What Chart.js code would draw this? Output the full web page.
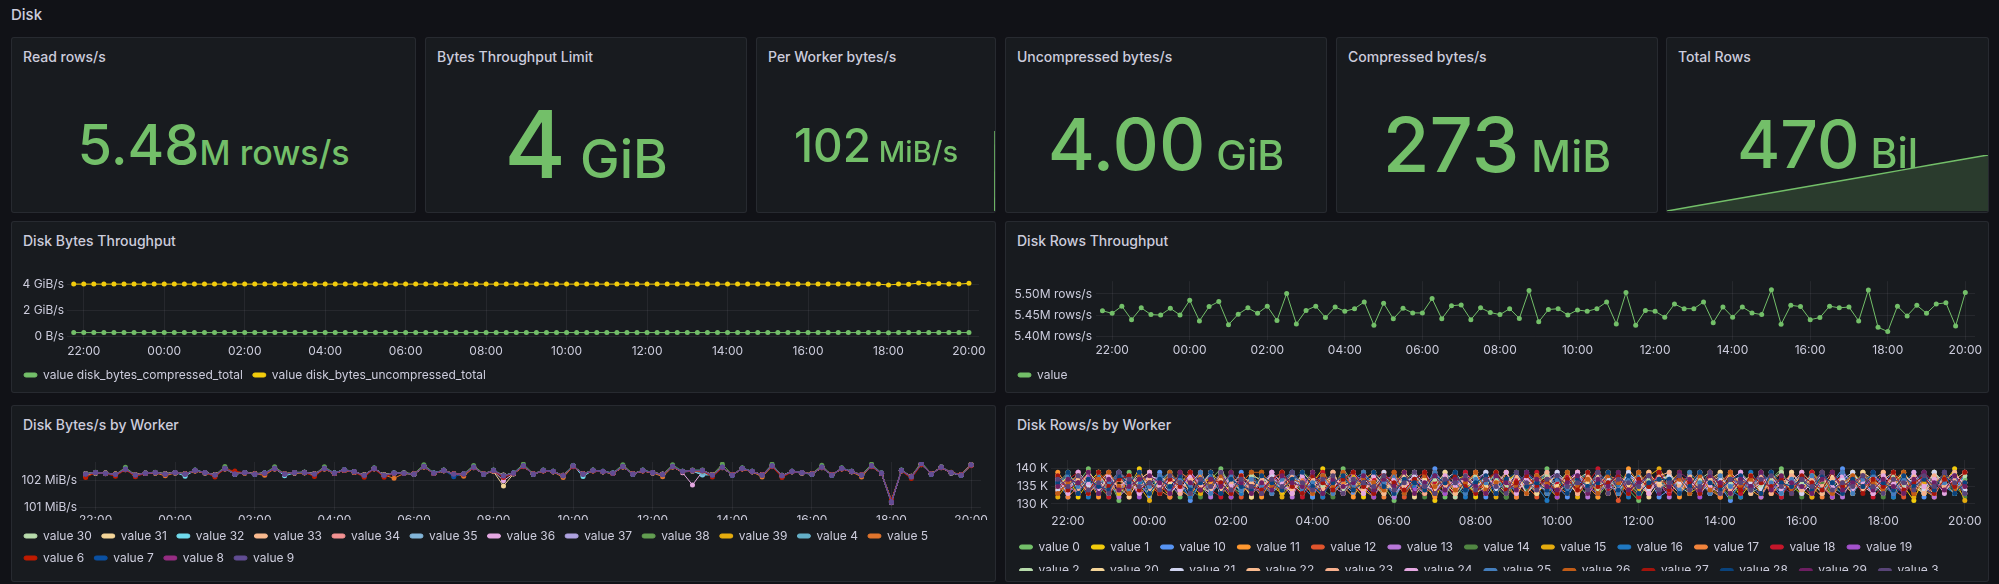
<!DOCTYPE html>
<html>
<head>
<meta charset="utf-8">
<script src="https://cdn.jsdelivr.net/npm/chart.js@4.4.1/dist/chart.umd.min.js"></script>
<style>
body{margin:0;background:#111217;width:1999px;height:584px;overflow:hidden;font-family:Inter,"Noto Sans",sans-serif;color:#ccccdc;position:relative}
.rowtitle{position:absolute;left:11px;top:6px;font-size:15px;font-weight:500;line-height:18px}
.panel{position:absolute;background:#181b1f;border:1px solid rgba(204,204,220,0.09);border-radius:3px;box-sizing:border-box;overflow:hidden}
.ptitle{position:absolute;left:11px;top:11px;font-size:14px;font-weight:500;line-height:16px;white-space:nowrap}
.stat{position:absolute;left:0;right:0;text-align:center;color:#73BF69;font-weight:500;line-height:1;white-space:nowrap}
.stat span{line-height:1}
.spark{position:absolute;left:0;right:0}
.box{position:absolute}
.clip{position:absolute;overflow:hidden}
</style>
</head>
<body>
<div class="rowtitle">Disk</div>

<div class="panel" style="left:11px;top:37px;width:405px;height:176px"><div class="ptitle">Read rows/s</div><div class="stat" style="top:78.5px;font-size:56px">5.48<span style="font-size:34px">M rows/s</span></div></div>
<div class="panel" style="left:425px;top:37px;width:322px;height:176px"><div class="ptitle">Bytes Throughput Limit</div><div class="stat" style="top:59px;font-size:94px">4<span style="font-size:53px"> GiB</span></div></div>
<div class="panel" style="left:756px;top:37px;width:240px;height:176px"><div class="ptitle">Per Worker bytes/s</div><div class="spark" style="top:93px;height:80px"><canvas id="sparkWorker"></canvas></div><div class="stat" style="top:84px;font-size:46px">102<span style="font-size:29px"> MiB/s</span></div></div>
<div class="panel" style="left:1005px;top:37px;width:322px;height:176px"><div class="ptitle">Uncompressed bytes/s</div><div class="stat" style="top:70px;font-size:72px">4.00<span style="font-size:41px"> GiB</span></div></div>
<div class="panel" style="left:1336px;top:37px;width:322px;height:176px"><div class="ptitle">Compressed bytes/s</div><div class="stat" style="top:68px;font-size:76px">273<span style="font-size:44px"> MiB</span></div></div>
<div class="panel" style="left:1666px;top:37px;width:323px;height:176px"><div class="ptitle">Total Rows</div><div class="spark" style="top:117px;height:56px"><canvas id="sparkRows"></canvas></div><div class="stat" style="top:73px;font-size:66px">470<span style="font-size:41px"> Bil</span></div></div>

<div class="panel" style="left:11px;top:221px;width:985px;height:172px"><div class="ptitle">Disk Bytes Throughput</div></div>
<div class="panel" style="left:1005px;top:221px;width:984px;height:172px"><div class="ptitle">Disk Rows Throughput</div></div>
<div class="panel" style="left:11px;top:405px;width:985px;height:177px"><div class="ptitle">Disk Bytes/s by Worker</div></div>
<div class="panel" style="left:1005px;top:405px;width:984px;height:177px"><div class="ptitle">Disk Rows/s by Worker</div></div>

<div class="box" style="left:14px;top:270px;width:982px;height:123px"><canvas id="bytesChart"></canvas></div>
<div class="box" style="left:1008px;top:270px;width:981px;height:123px"><canvas id="rowsChart"></canvas></div>
<div class="box" style="left:14px;top:440px;width:982px;height:142px"><canvas id="bytesWorkerChart"></canvas></div>
<div class="clip" style="left:1008px;top:440px;width:981px;height:131px"><div class="box" style="left:0;top:0;width:981px;height:150px"><canvas id="rowsWorkerChart"></canvas></div></div>

<script>
// time axis
const sampleStart = '21:45'
const sampleStep = 15
const timeRange = ['21:35', '20:15']
const timeTicks = ['22:00','00:00','02:00','04:00','06:00','08:00','10:00','12:00','14:00','16:00','18:00','20:00']

// stat sparklines
const perWorkerTimes = ['20:14', '20:15']
const perWorkerSpark = [0, 102.3]
const totalRowsTimes = ['21:45','00:00','02:00','04:00','06:00','08:00','10:00','12:00','14:00','16:00','18:00','20:00']
const totalRowsSpark = [0, 48, 90, 132, 174, 217, 259, 301, 343, 386, 428, 470]

// Disk Bytes Throughput (GiB/s)
const bytesTicks = [0, 2, 4]
const bytesTickText = ['0 B/s', '2 GiB/s', '4 GiB/s']
const bytesCompressed = [
0.27,0.27,0.27,0.27,0.27,0.27,0.27,0.27,0.27,0.27,
0.27,0.27,0.27,0.27,0.27,0.27,0.27,0.27,0.27,0.27,
0.27,0.27,0.27,0.27,0.27,0.27,0.27,0.27,0.27,0.27,
0.27,0.27,0.27,0.27,0.27,0.27,0.27,0.27,0.27,0.27,
0.27,0.27,0.27,0.27,0.27,0.27,0.27,0.27,0.27,0.27,
0.27,0.27,0.27,0.27,0.27,0.27,0.27,0.27,0.27,0.27,
0.27,0.27,0.27,0.27,0.27,0.27,0.27,0.27,0.27,0.27,
0.27,0.27,0.27,0.27,0.27,0.27,0.27,0.27,0.27,0.27,
0.27,0.26,0.27,0.27,0.27,0.27,0.27,0.27,0.27,0.27]
const bytesUncompressed = [
4.00,4.00,4.00,4.00,4.00,4.00,4.00,4.00,4.00,4.00,
4.00,4.00,4.00,4.00,4.00,4.00,4.00,4.00,4.00,4.00,
4.00,4.00,4.00,4.00,4.00,4.00,4.00,4.00,4.00,4.00,
4.00,4.00,4.00,4.00,4.00,4.00,4.00,4.00,4.00,4.00,
4.00,4.00,4.00,4.00,4.00,4.00,4.00,4.00,4.00,4.00,
4.00,4.00,4.00,4.00,4.00,4.00,4.00,4.00,4.00,4.00,
4.00,4.00,4.00,4.00,4.00,4.00,4.00,4.00,4.00,4.00,
4.00,4.00,4.00,4.00,4.00,4.00,4.00,4.00,4.00,4.00,
4.00,3.93,4.00,3.99,4.08,4.00,4.04,4.01,4.00,4.06]

// Disk Rows Throughput (M rows/s)
const rowsTicks = [5.40, 5.45, 5.50]
const rowsTickText = ['5.40M rows/s', '5.45M rows/s', '5.50M rows/s']
const rowsTotal = [
5.460,5.454,5.471,5.439,5.467,5.451,5.450,5.466,5.450,5.485,
5.436,5.470,5.482,5.427,5.452,5.467,5.454,5.471,5.437,5.501,
5.429,5.461,5.471,5.444,5.469,5.459,5.465,5.481,5.426,5.478,
5.441,5.466,5.455,5.455,5.489,5.441,5.472,5.474,5.439,5.467,
5.456,5.451,5.465,5.442,5.508,5.434,5.463,5.465,5.450,5.462,
5.459,5.465,5.481,5.429,5.503,5.426,5.461,5.459,5.445,5.476,
5.465,5.465,5.481,5.432,5.469,5.445,5.469,5.455,5.451,5.510,
5.428,5.473,5.470,5.439,5.444,5.471,5.467,5.469,5.436,5.509,
5.421,5.411,5.471,5.448,5.473,5.454,5.476,5.479,5.424,5.503]

// Disk Bytes/s by Worker (MiB/s)
const bytesWorkerTicks = [101, 102]
const bytesWorkerTickText = ['101 MiB/s', '102 MiB/s']
const bytesV30 = [
102.27,102.29,102.26,102.25,102.41,102.23,102.27,102.31,102.24,102.29,
102.26,102.36,102.31,102.22,102.44,102.26,102.29,102.27,102.27,102.44,
102.26,102.29,102.30,102.26,102.44,102.27,102.39,102.32,102.22,102.45,
102.22,102.27,102.29,102.26,102.51,102.27,102.37,102.26,102.24,102.48,
102.26,102.37,102.20,102.27,102.53,102.26,102.37,102.33,102.20,102.53,
102.26,102.37,102.33,102.27,102.51,102.26,102.37,102.31,102.24,102.51,
102.33,102.37,102.37,102.23,102.48,102.22,102.45,102.33,102.22,102.53,
102.20,102.33,102.29,102.26,102.48,102.22,102.45,102.33,102.22,102.53,
102.27,101.25,102.36,102.17,102.60,102.26,102.48,102.29,102.22,102.57]
const bytesV31 = [
102.24,102.31,102.27,102.25,102.42,102.22,102.29,102.30,102.26,102.31,
102.24,102.37,102.31,102.22,102.45,102.24,102.31,102.26,102.29,102.45,
102.26,102.31,102.30,102.24,102.45,102.29,102.39,102.34,102.21,102.45,
102.21,102.29,102.27,102.26,102.52,102.29,102.37,102.24,102.26,102.49,
102.26,102.34,101.80,102.25,102.54,102.24,102.37,102.35,102.19,102.54,
102.24,102.39,102.33,102.29,102.52,102.26,102.37,102.31,102.24,102.52,
102.35,102.37,102.39,102.22,102.49,102.22,102.45,102.35,102.22,102.54,
102.19,102.35,102.31,102.24,102.49,102.22,102.45,102.35,102.22,102.54,
102.29,101.24,102.37,102.16,102.62,102.26,102.49,102.31,102.22,102.58]
const bytesV32 = [
102.23,102.28,102.29,102.22,102.44,102.20,102.27,102.31,102.23,102.31,
102.17,102.39,102.29,102.20,102.47,102.24,102.31,102.24,102.29,102.47,
102.18,102.29,102.32,102.21,102.47,102.29,102.41,102.34,102.19,102.47,
102.21,102.29,102.29,102.24,102.54,102.29,102.39,102.24,102.26,102.51,
102.24,102.39,102.19,102.29,102.56,102.24,102.39,102.35,102.19,102.56,
102.16,102.39,102.35,102.29,102.54,102.24,102.39,102.31,102.22,102.54,
102.35,102.36,102.21,102.22,102.51,102.20,102.47,102.35,102.20,102.56,
102.19,102.35,102.31,102.24,102.51,102.20,102.47,102.35,102.20,102.56,
102.29,101.19,102.39,102.14,102.64,102.24,102.51,102.31,102.20,102.60]
const bytesV33 = [
102.26,102.29,102.29,102.23,102.42,102.22,102.29,102.29,102.26,102.29,
102.26,102.37,102.29,102.22,102.45,102.26,102.29,102.26,102.27,102.45,
102.26,102.29,102.32,102.26,102.45,102.27,102.39,102.32,102.21,102.45,
102.21,102.27,102.29,102.24,102.52,102.27,102.39,102.26,102.24,102.49,
102.26,102.37,102.21,102.27,102.54,102.26,102.37,102.33,102.19,102.54,
102.26,102.37,102.33,102.27,102.52,102.26,102.37,102.29,102.24,102.52,
102.33,102.39,102.37,102.22,102.49,102.22,102.45,102.33,102.22,102.54,
102.19,102.33,102.29,102.26,102.49,102.22,102.45,102.33,102.22,102.54,
102.27,101.22,102.37,102.16,102.62,102.26,102.49,102.29,102.22,102.60]
const bytesV34 = [
102.22,102.31,102.27,102.25,102.44,102.22,102.27,102.31,102.24,102.31,
102.24,102.39,102.31,102.22,102.47,102.24,102.31,102.24,102.29,102.47,
102.24,102.31,102.30,102.24,102.47,102.29,102.41,102.32,102.21,102.47,
102.21,102.29,102.27,102.26,102.54,102.27,102.39,102.24,102.26,102.51,
102.24,102.39,102.17,102.29,102.56,102.24,102.39,102.33,102.17,102.56,
102.24,102.39,102.33,102.29,102.54,102.24,102.39,102.29,102.22,102.54,
102.33,102.39,102.37,102.22,102.51,102.22,102.47,102.33,102.22,102.56,
102.17,102.33,102.29,102.26,102.51,102.22,102.47,102.33,102.22,102.56,
102.27,101.17,102.39,102.16,102.64,102.26,102.51,102.29,102.22,102.61]
const bytesV35 = [
102.27,102.28,102.30,102.23,102.43,102.20,102.29,102.29,102.27,102.29,
102.27,102.37,102.29,102.23,102.45,102.27,102.29,102.27,102.27,102.45,
102.27,102.29,102.32,102.27,102.45,102.27,102.39,102.32,102.22,102.45,
102.22,102.27,102.30,102.23,102.52,102.27,102.37,102.27,102.23,102.49,
102.27,102.37,102.20,102.27,102.54,102.27,102.37,102.33,102.20,102.54,
102.27,102.37,102.33,102.27,102.52,102.27,102.37,102.29,102.25,102.52,
102.33,102.35,102.24,102.23,102.49,102.23,102.45,102.33,102.23,102.54,
102.20,102.33,102.29,102.27,102.49,102.23,102.45,102.33,102.23,102.54,
102.27,101.26,102.37,102.17,102.61,102.27,102.49,102.29,102.23,102.58]
const bytesV36 = [
102.24,102.31,102.28,102.23,102.44,102.21,102.29,102.31,102.25,102.31,
102.24,102.38,102.31,102.21,102.46,102.25,102.31,102.25,102.29,102.46,
102.24,102.31,102.31,102.25,102.46,102.29,102.40,102.34,102.20,102.46,
102.20,102.29,102.28,102.25,102.53,102.29,102.38,102.25,102.25,102.50,
102.25,102.36,102.00,102.26,102.55,102.25,102.38,102.34,102.18,102.55,
102.25,102.38,102.34,102.28,102.53,102.25,102.38,102.31,102.23,102.53,
102.30,101.84,102.34,102.21,102.50,102.21,102.46,102.34,102.21,102.55,
102.18,102.34,102.31,102.25,102.50,102.21,102.46,102.34,102.21,102.55,
102.28,101.20,102.38,102.15,102.63,102.25,102.50,102.31,102.21,102.59]
const bytesV37 = [
102.26,102.30,102.27,102.24,102.42,102.22,102.28,102.29,102.25,102.30,
102.26,102.37,102.30,102.21,102.45,102.26,102.30,102.25,102.28,102.45,
102.25,102.30,102.31,102.26,102.45,102.28,102.39,102.33,102.21,102.45,
102.21,102.28,102.28,102.25,102.52,102.28,102.38,102.26,102.25,102.49,
102.25,102.37,102.19,102.28,102.54,102.25,102.37,102.34,102.19,102.54,
102.25,102.37,102.34,102.28,102.52,102.25,102.37,102.30,102.23,102.52,
102.34,102.37,102.37,102.22,102.49,102.22,102.45,102.34,102.22,102.54,
102.19,102.34,102.30,102.25,102.49,102.22,102.45,102.34,102.22,102.54,
102.28,101.23,102.37,102.16,102.62,102.25,102.49,102.30,102.22,102.58]
const bytesV38 = [
102.26,102.32,102.29,102.23,102.50,102.21,102.29,102.32,102.25,102.31,
102.26,102.40,102.31,102.21,102.53,102.26,102.31,102.25,102.29,102.52,
102.26,102.31,102.32,102.25,102.52,102.29,102.42,102.34,102.20,102.48,
102.20,102.29,102.29,102.26,102.60,102.29,102.40,102.26,102.26,102.57,
102.26,102.40,102.19,102.29,102.62,102.26,102.40,102.35,102.19,102.57,
102.26,102.40,102.35,102.29,102.60,102.26,102.40,102.31,102.23,102.60,
102.35,102.40,102.40,102.22,102.62,102.22,102.48,102.35,102.20,102.62,
102.17,102.35,102.31,102.26,102.58,102.20,102.48,102.35,102.22,102.62,
102.29,101.24,102.40,102.16,102.70,102.26,102.52,102.31,102.22,102.61]
const bytesV39 = [
102.25,102.29,102.28,102.25,102.42,102.22,102.28,102.29,102.26,102.30,
102.25,102.37,102.30,102.22,102.46,102.25,102.29,102.26,102.28,102.46,
102.25,102.30,102.30,102.25,102.45,102.28,102.39,102.33,102.21,102.46,
102.21,102.28,102.28,102.25,102.52,102.28,102.38,102.25,102.25,102.50,
102.25,102.37,102.18,102.28,102.54,102.25,102.38,102.33,102.19,102.54,
102.25,102.37,102.34,102.28,102.52,102.25,102.38,102.30,102.23,102.52,
102.34,102.38,102.37,102.22,102.50,102.21,102.45,102.34,102.21,102.54,
102.19,102.34,102.30,102.25,102.50,102.21,102.45,102.34,102.21,102.54,
102.28,101.22,102.38,102.16,102.62,102.25,102.50,102.30,102.21,102.58]
const bytesV4 = [
102.20,102.31,102.27,102.22,102.44,102.19,102.28,102.31,102.24,102.31,
102.24,102.39,102.31,102.20,102.47,102.24,102.31,102.24,102.29,102.47,
102.24,102.31,102.30,102.24,102.47,102.29,102.41,102.32,102.19,102.47,
102.19,102.29,102.27,102.24,102.54,102.29,102.39,102.24,102.24,102.51,
102.24,102.39,102.17,102.29,102.56,102.24,102.39,102.33,102.17,102.56,
102.24,102.39,102.33,102.29,102.54,102.24,102.39,102.29,102.22,102.54,
102.33,102.36,102.30,102.20,102.51,102.20,102.47,102.33,102.20,102.56,
102.17,102.33,102.29,102.24,102.51,102.20,102.47,102.33,102.20,102.56,
102.27,101.18,102.39,102.14,102.64,102.24,102.51,102.29,102.20,102.60]
const bytesV5 = [
102.18,102.29,102.29,102.24,102.42,102.22,102.29,102.29,102.18,102.29,
102.26,102.37,102.29,102.22,102.45,102.26,102.29,102.26,102.20,102.45,
102.26,102.29,102.30,102.26,102.45,102.27,102.39,102.32,102.21,102.45,
102.21,102.09,102.27,102.24,102.52,102.27,102.37,102.26,102.17,102.49,
102.26,102.37,102.19,102.27,102.54,102.26,102.37,102.33,102.12,102.54,
102.26,102.37,102.33,102.27,102.52,102.26,102.37,102.29,102.15,102.52,
102.33,102.37,102.37,102.22,102.49,102.22,102.45,102.33,102.14,102.54,
102.19,102.33,102.29,102.26,102.49,102.22,102.45,102.33,102.14,102.56,
102.27,101.25,102.37,102.17,102.64,102.26,102.51,102.32,102.22,102.61]
const bytesV6 = [
102.12,102.30,102.26,102.17,102.41,102.15,102.27,102.30,102.24,102.30,
102.26,102.36,102.30,102.14,102.44,102.36,102.29,102.26,102.27,102.44,
102.26,102.30,102.30,102.16,102.44,102.27,102.38,102.32,102.13,102.44,
102.13,102.27,102.27,102.26,102.51,102.27,102.37,102.26,102.24,102.48,
102.26,102.36,102.12,102.27,102.52,102.26,102.36,102.33,102.20,102.52,
102.26,102.36,102.33,102.27,102.51,102.26,102.36,102.30,102.24,102.51,
102.33,102.36,102.36,102.14,102.48,102.23,102.44,102.33,102.23,102.52,
102.12,102.33,102.30,102.26,102.48,102.23,102.44,102.33,102.23,102.52,
102.27,101.28,102.36,102.08,102.60,102.26,102.48,102.30,102.23,102.56]
const bytesV7 = [
102.24,102.31,102.27,102.23,102.44,102.21,102.29,102.31,102.24,102.31,
102.24,102.39,102.31,102.21,102.47,102.24,102.31,102.24,102.29,102.47,
102.24,102.31,102.31,102.24,102.47,102.29,102.41,102.34,102.20,102.47,
102.20,102.29,102.28,102.24,102.54,102.29,102.39,102.15,102.26,102.51,
102.24,102.39,102.18,102.29,102.56,102.24,102.39,102.35,102.18,102.56,
102.24,102.39,102.35,102.29,102.54,102.24,102.39,102.31,102.22,102.54,
102.35,102.39,102.39,102.20,102.51,102.20,102.47,102.35,102.20,102.56,
102.18,102.35,102.31,102.24,102.51,102.20,102.47,102.35,102.20,102.56,
102.29,101.20,102.39,102.14,102.64,102.24,102.51,102.31,102.20,102.60]
const bytesV8 = [
102.25,102.30,102.28,102.24,102.43,102.21,102.28,102.30,102.25,102.30,
102.25,102.38,102.30,102.21,102.46,102.25,102.30,102.25,102.28,102.46,
102.25,102.30,102.31,102.25,102.46,102.28,102.40,102.33,102.20,102.46,
102.20,102.28,102.28,102.25,102.53,102.28,102.38,102.25,102.25,102.50,
102.25,102.38,102.17,102.28,102.55,102.25,102.38,102.34,102.18,102.55,
102.25,102.38,102.34,102.28,102.53,102.25,102.38,102.30,102.23,102.53,
102.34,102.38,102.38,102.21,102.50,102.21,102.46,102.34,102.21,102.55,
102.18,102.34,102.30,102.25,102.50,102.21,102.46,102.34,102.21,102.55,
102.28,101.19,102.38,102.15,102.63,102.25,102.50,102.30,102.21,102.59]
const bytesV9 = [
102.25,102.30,102.28,102.24,102.43,102.21,102.28,102.30,102.25,102.30,
102.25,102.38,102.30,102.21,102.46,102.25,102.30,102.25,102.28,102.46,
102.25,102.30,102.31,102.25,102.46,102.28,102.40,102.33,102.20,102.46,
102.20,102.28,102.28,102.25,102.53,102.28,102.38,102.25,102.25,102.50,
102.25,102.38,102.18,102.28,102.55,102.25,102.38,102.34,102.18,102.55,
102.25,102.38,102.34,102.28,102.53,102.25,102.38,102.30,102.23,102.53,
102.34,102.38,102.38,102.21,102.50,102.21,102.46,102.34,102.21,102.55,
102.18,102.34,102.30,102.25,102.50,102.21,102.46,102.34,102.21,102.55,
102.28,101.21,102.38,102.15,102.63,102.25,102.50,102.30,102.21,102.59]
const bytesWorkerNames = ['value 30','value 31','value 32','value 33','value 34','value 35','value 36','value 37','value 38','value 39','value 4','value 5','value 6','value 7','value 8','value 9']
const bytesWorkerColors = ['#B7DBAB','#F4D598','#70DBED','#F9BA8F','#F29191','#82B5D8','#E5A8E2','#AEA2E0','#629E51','#E5AC0E','#64B0C8','#E0752D','#BF1B00','#0A50A1','#962D82','#614D93']
const bytesWorkerValues = [bytesV30, bytesV31, bytesV32, bytesV33, bytesV34, bytesV35, bytesV36, bytesV37, bytesV38, bytesV39, bytesV4, bytesV5, bytesV6, bytesV7, bytesV8, bytesV9]

// Disk Rows/s by Worker (K rows/s)
const rowsWorkerTicks = [130, 135, 140]
const rowsWorkerTickText = ['130 K', '135 K', '140 K']
const rowsV0 = [
138,133,136,140,134,137,131,139,135,133,138,136,132,139,134,137,140,135,133,137,
135,139,133,136,138,132,137,134,140,136,133,138,135,131,137,139,134,136,132,138,
136,133,139,135,132,138,136,134,140,133,137,135,139,132,136,138,134,131,137,135,
139,134,136,133,138,135,132,139,136,134,137,140,133,136,134,138,132,137,135,139,
134,137,132,138,135,133,139,136,134,137]
const rowsV1 = [
134,138,132,136,139,133,137,135,140,134,136,132,138,135,133,139,136,134,137,132,
139,135,133,138,134,136,140,133,137,135,132,138,134,136,139,133,137,131,138,135,
137,132,138,134,136,139,133,137,135,132,138,136,134,139,133,137,135,132,139,134,
136,138,133,135,139,134,137,132,136,138,134,137,135,133,139,136,132,138,134,136,
138,133,137,135,131,138,134,136,140,133]
const rowsV10 = [
136,132,139,134,137,135,133,138,136,132,139,134,137,131,136,138,133,135,139,134,
137,133,136,139,135,132,138,134,136,133,139,135,137,132,136,138,134,140,133,137,
135,139,132,136,134,138,133,136,139,135,132,137,134,138,136,133,139,135,137,132,
134,138,136,133,139,135,131,137,134,138,136,132,139,135,137,133,136,140,134,137,
133,136,139,134,137,132,138,135,133,139]
const rowsV11 = [
139,135,133,137,132,138,135,136,133,139,135,137,134,132,138,136,134,139,133,136,
132,137,135,139,134,136,133,138,135,132,137,139,134,136,133,138,135,132,139,136,
134,137,133,138,135,132,139,134,136,138,133,137,135,132,138,134,140,136,133,137,
135,132,138,134,136,139,133,136,134,132,138,135,137,133,139,135,132,137,134,138,
136,133,139,135,137,134,132,138,136,134]
const rowsV12 = [
133,137,135,138,134,136,139,132,137,135,133,138,136,134,139,133,137,135,132,138,
134,136,138,133,137,135,132,139,134,136,138,133,135,139,132,137,136,134,138,133,
137,134,136,139,133,137,135,132,138,134,136,139,133,136,138,131,137,135,133,139,
136,133,137,135,139,132,136,138,134,137,133,135,139,136,132,138,134,136,133,137,
135,139,134,132,138,136,133,137,135,139]
const rowsV13 = [
137,134,139,133,136,138,132,135,139,136,134,137,133,139,135,132,138,136,134,137,
133,139,136,132,138,134,137,135,133,139,136,134,138,132,137,135,133,139,136,134,
139,135,133,137,134,138,136,133,137,139,134,136,132,138,135,137,133,139,134,136,
132,138,135,137,133,136,139,134,136,132,137,135,138,133,136,139,134,132,137,135,
139,134,136,133,138,135,132,139,136,134]
const rowsV14 = [
135,139,133,137,135,132,138,136,134,139,133,136,138,134,132,137,135,139,136,133,
138,134,136,133,139,137,134,132,138,135,136,133,139,134,137,135,132,138,136,134,
133,137,135,139,132,136,134,138,133,136,139,135,133,137,134,139,136,132,138,135,
137,133,139,134,136,138,132,135,137,133,139,134,136,132,138,136,134,139,133,137,
135,132,138,136,134,139,133,137,135,132]
const rowsV15 = [
132,136,138,134,139,136,133,137,135,131,138,134,136,139,133,137,135,132,138,136,
135,138,132,136,134,139,133,137,136,138,134,132,137,135,139,133,136,138,134,137,
138,134,136,132,139,135,137,133,136,134,138,132,137,135,139,133,136,134,138,140,
136,139,133,137,135,132,138,136,134,139,133,136,138,134,132,137,135,133,139,136,
133,137,135,139,132,136,138,134,137,131]
const rowsV16 = [
136,134,137,132,138,135,139,134,136,133,137,139,135,132,136,138,134,137,133,139,
134,137,135,139,133,136,132,138,135,137,139,134,136,133,138,135,137,133,139,136,
132,138,136,134,137,133,139,135,131,137,134,136,139,133,137,135,132,138,136,134,
139,135,133,137,136,138,134,132,139,135,137,133,136,138,134,139,135,133,137,136,
134,138,132,136,139,134,137,135,133,138]
const rowsV17 = [
138,132,135,139,136,134,137,133,138,136,134,132,139,137,135,133,138,134,136,139,
136,133,139,134,137,135,138,133,136,134,139,136,132,138,135,137,134,139,133,136,
135,139,133,137,136,132,138,134,137,135,133,139,136,134,138,137,133,136,139,134,
137,133,136,139,134,132,137,135,138,133,136,139,134,137,135,132,138,136,134,139,
136,134,138,133,137,135,139,134,136,133]
const rowsV18 = [
134,137,139,133,136,132,138,135,137,139,135,133,137,136,139,134,132,138,135,137,
133,138,135,137,132,136,139,134,138,135,133,137,139,135,134,138,133,136,137,132,
139,136,134,138,135,137,133,139,134,136,138,133,136,140,134,137,135,132,138,136,
133,136,138,134,137,135,139,133,136,138,134,132,137,135,139,133,136,138,134,137,
132,135,138,136,133,139,136,134,137,135]
const rowsV19 = [
137,135,133,138,136,139,134,137,132,136,138,135,133,139,136,134,137,132,138,135,
136,139,134,135,138,133,136,137,134,139,135,132,137,138,136,134,139,135,133,137,
134,136,139,133,137,135,138,134,136,132,137,139,135,133,136,138,134,137,133,139,
136,134,137,132,138,136,133,139,135,137,134,136,138,133,137,135,132,139,136,134,
138,136,133,137,135,138,134,136,139,133]
const rowsV2 = [
135,138,136,133,139,134,137,135,138,133,136,139,134,137,135,133,139,136,134,138,
137,134,138,136,133,137,135,139,134,136,138,135,133,137,136,139,134,137,135,132,
136,138,134,137,135,139,133,136,138,134,135,137,139,134,136,133,138,135,137,136,
138,135,133,137,139,134,136,138,133,135,137,139,134,136,138,133,137,135,139,134,
136,133,138,135,137,134,139,136,133,138]
const rowsV20 = [
136,139,134,137,133,138,135,132,137,139,134,136,138,133,137,135,139,134,136,132,
138,135,137,133,139,136,134,138,135,137,133,139,136,134,138,132,137,135,139,133,
137,133,135,139,136,134,138,133,137,135,139,134,136,138,133,137,135,139,132,136,
134,138,136,135,137,139,133,136,138,134,136,133,139,135,137,134,138,136,133,139,
137,134,136,139,135,133,137,138,134,136]
const rowsV21 = [
134,136,138,135,137,133,139,136,134,138,137,133,136,138,135,139,134,137,136,133,
136,138,134,137,135,139,133,136,138,134,137,135,139,133,136,138,135,134,137,139,
135,137,139,134,136,138,133,137,135,139,136,133,138,135,137,134,139,136,134,137,
138,136,134,139,133,137,135,138,136,134,139,135,137,133,136,138,134,137,139,135,
133,137,135,138,136,134,139,135,137,134]
const rowsV22 = [
138,135,137,133,136,139,134,138,135,137,133,138,135,136,139,134,137,133,138,136,
135,137,139,134,136,133,138,135,137,139,134,136,133,138,135,137,139,134,136,133,
138,135,137,136,139,134,136,138,133,137,135,139,134,137,135,138,136,133,139,135,
136,133,138,135,137,134,139,136,133,138,135,137,134,139,136,133,137,135,138,134,
137,139,134,136,138,135,133,137,139,135]
const rowsV23 = [
135,137,134,139,136,133,137,135,139,134,136,138,133,137,135,139,134,136,138,133,
137,134,136,138,135,137,134,139,133,136,138,135,137,134,139,136,133,138,135,137,
136,139,134,136,133,138,135,137,139,134,136,133,138,135,139,134,137,135,133,138,
139,135,137,133,136,138,134,137,135,139,133,136,138,134,137,135,139,133,136,138,
135,137,139,134,136,133,138,135,137,139]
const rowsV24 = [
137,133,139,136,134,138,135,137,133,139,135,137,134,138,136,133,139,135,137,134,
134,139,136,133,138,135,137,134,139,136,133,138,135,137,134,139,136,133,138,135,
137,134,138,135,139,133,137,135,134,138,136,139,133,137,135,134,138,136,133,137,
135,137,134,138,135,133,137,139,134,136,138,134,136,139,133,137,135,138,134,136,
133,138,136,134,139,135,137,133,138,136]
const rowsV25 = [
136,138,135,137,133,136,139,134,137,135,138,134,137,135,139,133,136,138,134,137,
135,133,137,139,134,136,138,133,137,135,139,134,136,138,133,137,135,139,134,136,
133,137,136,138,134,135,139,136,133,137,134,138,135,139,136,133,137,135,138,134,
137,134,139,136,133,138,135,137,134,139,136,133,137,135,138,134,136,139,133,137,
138,135,133,137,136,139,134,136,138,133]
const rowsV26 = [
133,136,138,134,137,139,135,133,138,136,134,139,136,133,137,135,138,134,136,139,
139,135,134,137,136,133,138,135,139,134,137,136,134,139,133,136,138,135,137,134,
136,139,134,136,137,135,133,138,136,134,139,135,137,133,138,136,134,139,135,137,
135,137,133,138,134,136,139,135,137,133,138,136,134,137,135,139,133,136,138,135,
136,134,137,139,133,137,135,138,134,136]
const rowsV27 = [
138,134,136,133,139,135,137,138,134,136,133,137,135,139,134,137,136,133,138,135,
134,137,139,135,133,138,136,134,137,139,135,133,138,136,134,137,139,133,136,138,
135,133,137,139,134,136,138,135,137,133,137,134,139,135,136,138,133,137,135,139,
134,138,136,133,139,135,137,134,138,136,135,137,133,138,136,134,139,135,137,133,
137,135,139,134,136,138,133,137,135,139]
const rowsV28 = [
136,139,133,137,135,134,138,136,139,133,137,135,138,134,136,139,133,137,135,134,
138,136,134,137,139,135,133,136,138,134,136,139,135,133,137,136,134,138,136,139,
134,136,138,133,137,139,135,136,134,138,133,137,135,136,139,134,138,133,136,137,
137,133,135,139,136,134,137,138,135,133,139,136,135,137,134,138,136,133,137,135,
139,136,134,138,135,137,134,139,133,136]
const rowsV29 = [
135,137,136,139,133,137,134,135,137,138,136,133,139,136,134,137,135,139,136,133,
136,134,138,136,135,139,133,137,135,136,138,134,137,135,139,133,136,138,134,137,
137,135,133,138,136,134,139,137,135,134,136,138,133,137,135,139,134,136,138,133,
135,139,137,134,138,136,133,137,135,139,134,138,136,135,133,137,139,134,136,138,
134,137,135,133,137,139,136,134,138,135]
const rowsV3 = [
137,135,138,134,136,133,139,137,135,136,134,138,136,133,137,135,139,134,137,135,
133,137,135,139,136,134,137,138,133,137,136,135,138,134,136,139,135,133,137,136,
138,134,137,135,133,139,136,134,137,138,135,136,134,139,133,137,136,135,138,134,
136,138,134,135,139,133,137,136,134,137,138,135,133,137,135,139,134,136,135,138,
135,133,137,136,134,138,135,139,136,133]
const rowsWorkerNames = ['value 0','value 1','value 10','value 11','value 12','value 13','value 14','value 15','value 16','value 17','value 18','value 19','value 2','value 20','value 21','value 22','value 23','value 24','value 25','value 26','value 27','value 28','value 29','value 3']
const rowsWorkerColors = ['#73BF69','#F2CC0C','#5794F2','#FF9830','#E0552D','#B877D9','#508642','#E5AC0E','#1F78C1','#F2843C','#C4162A','#A352CC','#B7DBAB','#F4D598','#D0D4F0','#F9BA8F','#F8B08E','#E5A8E2','#447EBC','#C15C17','#A3140C','#0A437C','#6D1F62','#584477']
const rowsWorkerValues = [rowsV0, rowsV1, rowsV10, rowsV11, rowsV12, rowsV13, rowsV14, rowsV15, rowsV16, rowsV17, rowsV18, rowsV19, rowsV2, rowsV20, rowsV21, rowsV22, rowsV23, rowsV24, rowsV25, rowsV26, rowsV27, rowsV28, rowsV29, rowsV3]

const gridColor = 'rgba(204,204,220,0.08)'
const textColor = '#ccccdc'

Chart.defaults.font.family = 'Inter, "Noto Sans", sans-serif'
Chart.defaults.font.size = 12
Chart.defaults.color = textColor
Chart.defaults.animation = false

// minutes since 21:30 of the first day
function toX(t){
const [h, m] = t.split(':').map(Number)
return ((h * 60 + m) - (21 * 60 + 30) + 1440) % 1440
}

function pts(vals){
return vals.map((v, i) => ({x: toX(sampleStart) + i * sampleStep, y: v}))
}

function lineSet(label, color, vals, i){
return {
label: label,
data: pts(vals),
borderColor: color,
backgroundColor: color,
pointBackgroundColor: color,
borderWidth: 1,
pointRadius: 2.5,
pointBorderWidth: 0,
order: -i
}
}

function timeChart(id, g, sets, yVals, yText, yMin, yMax){

new Chart(document.getElementById(id), {
type: 'line',
data: {datasets: sets},
options: {
responsive: true,
maintainAspectRatio: false,
animation: false,
events: [],
layout: {padding: {left: 0, right: g.padR, top: g.padT, bottom: g.padB}},
plugins: {
legend: {
position: 'bottom',
align: 'start',
labels: {
boxWidth: 13, boxHeight: 4, useBorderRadius: true, borderRadius: 2,
padding: g.legPad, color: textColor, font: {size: 12},
sort: (a, b) => a.datasetIndex - b.datasetIndex
}
},
tooltip: {enabled: false}
},
scales: {
x: {
type: 'linear',
min: toX(timeRange[0]),
max: toX(timeRange[1]),
afterBuildTicks: s => { s.ticks = timeTicks.map(t => ({value: toX(t)})) },
afterFit: s => { s.height = g.xH },
ticks: {padding: g.xPad, autoSkip: false, maxRotation: 0, color: textColor, callback: (v, i) => timeTicks[i]},
grid: {color: gridColor, drawTicks: false},
border: {display: false}
},
y: {
min: yMin,
max: yMax,
afterBuildTicks: s => { s.ticks = yVals.map(v => ({value: v})) },
afterFit: s => { s.width = g.yW },
ticks: {padding: g.yPad, color: textColor, callback: (v, i) => yText[i]},
grid: {color: gridColor, drawTicks: false},
border: {display: false}
}
}
}
})

}

function sparkChart(id, times, vals, xMin, xMax, fill){

new Chart(document.getElementById(id), {
type: 'line',
data: {datasets: [{
data: times.map((t, i) => ({x: toX(t), y: vals[i]})),
borderColor: '#73BF69',
backgroundColor: 'rgba(115,191,105,0.2)',
borderWidth: 1.5,
pointRadius: 0,
fill: fill ? 'start' : false,
clip: false
}]},
options: {
responsive: true,
maintainAspectRatio: false,
animation: false,
events: [],
layout: {padding: 0},
plugins: {legend: {display: false}, tooltip: {enabled: false}},
scales: {
x: {type: 'linear', display: false, min: xMin, max: xMax},
y: {display: false, min: Math.min(...vals), max: Math.max(...vals)}
}
}
})

}

sparkChart('sparkWorker', perWorkerTimes, perWorkerSpark, toX(sampleStart), toX('20:15'), true)
sparkChart('sparkRows', totalRowsTimes, totalRowsSpark, toX(sampleStart), toX('20:00'), true)

timeChart('bytesChart',
{padT: 8, padR: 17, padB: 2, yW: 53, xH: 19, xPad: 4, yPad: 3, legPad: 10},
[lineSet('value disk_bytes_compressed_total', '#73BF69', bytesCompressed, 0),
 lineSet('value disk_bytes_uncompressed_total', '#F2CC0C', bytesUncompressed, 1)],
bytesTicks, bytesTickText, -0.3, 4.3)

timeChart('rowsChart',
{padT: 5, padR: 14, padB: 2, yW: 88, xH: 19, xPad: 3, yPad: 4, legPad: 10},
[lineSet('value', '#73BF69', rowsTotal, 0)],
rowsTicks, rowsTickText, 5.391, 5.530)

timeChart('bytesWorkerChart',
{padT: 22, padR: 15, padB: 8, yW: 65, xH: 10, xPad: 3, yPad: 2, legPad: 10},
bytesWorkerNames.map((n, i) => lineSet(n, bytesWorkerColors[i], bytesWorkerValues[i], i)),
bytesWorkerTicks, bytesWorkerTickText, 100.9, 102.7)

timeChart('rowsWorkerChart',
{padT: 20, padR: 14, padB: 3.5, yW: 43, xH: 18.5, xPad: 3, yPad: 3, legPad: 11.5},
rowsWorkerNames.map((n, i) => lineSet(n, rowsWorkerColors[i], rowsWorkerValues[i], i)),
rowsWorkerTicks, rowsWorkerTickText, 128, 142.5)
</script>
</body>
</html>
